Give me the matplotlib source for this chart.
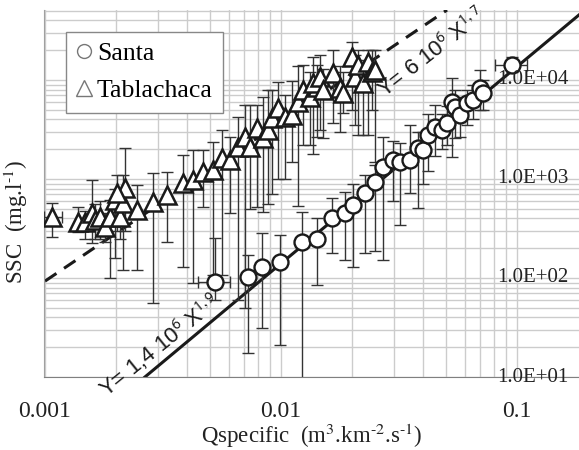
import matplotlib
matplotlib.use("Agg")
import matplotlib.pyplot as plt
import numpy as np
from matplotlib.lines import Line2D
from matplotlib.ticker import LogLocator, NullFormatter

# Tablachaca (triangles): Qspecific, SSC, lower / upper error limits
tab_q = [0.00107, 0.00138, 0.00148, 0.00158, 0.00163, 0.00171, 0.00180, 0.00188,
         0.00198, 0.00208, 0.00214, 0.00218, 0.00245, 0.00287, 0.00329, 0.00385,
         0.00424, 0.00467, 0.00515, 0.00562, 0.00608, 0.00658, 0.00703, 0.00739,
         0.00791, 0.00839, 0.00881, 0.00916, 0.00971, 0.0104, 0.0111, 0.0118,
         0.0124, 0.0133, 0.0142, 0.0137, 0.0146, 0.0151, 0.0166, 0.0178,
         0.0183, 0.0200, 0.0206, 0.0212, 0.0223, 0.0234, 0.0243, 0.0250, 0.00202]
tab_ssc = [413, 368, 368, 454, 385, 413, 327, 413, 614, 413, 573, 811, 486, 586,
           689, 912, 977, 1178, 1233, 1630, 1556, 2104, 2655, 2104, 3273, 2594,
           3126, 4131, 5213, 4227, 4426, 5996, 7925, 6730, 8494, 9326, 10720,
           7925, 11770, 8300, 7390, 17060, 10720, 14180, 9326, 15200, 12050,
           12630, 722]
tab_low = [259, 292, 250, 226, 245, 245, 230, 100, 159, 245, 120, 300, 120, 56,
           231, 129, 89, 521, 107, 107, 454, 60, 50, 500, 520, 460, 560, 700,
           1000, 1000, 1500, 530, 2200, 2200, 2650, 1800, 3100, 2600, 3680,
           2985, 4600, 5000, 3500, 2800, 2800, 2780, 5000, 1500, 300]
tab_high = [573, 520, 480, 977, 560, 600, 450, 620, 800, 560, 1100, 2056, 871,
            1150, 1178, 1746, 1963, 1963, 2366, 3126, 2655, 4227, 5600, 5600,
            5600, 6700, 8000, 8000, 9500, 7000, 9800, 14000, 14200, 12000,
            14200, 17000, 18000, 13000, 20000, 14000, 12000, 24200, 17900,
            20000, 16000, 20000, 20000, 20000, 1100]

# Santa (circles)
san_q = [0.00525, 0.00724, 0.0083, 0.0099, 0.0123, 0.0142, 0.0165, 0.0187,
         0.0202, 0.0227, 0.0250, 0.0271, 0.0298, 0.0319, 0.0352, 0.0381, 0.0400,
         0.0420, 0.0450, 0.0481, 0.0505, 0.0531, 0.0546, 0.0573, 0.0614,
         0.0651, 0.0697, 0.0718, 0.0953]
san_ssc = [91, 102, 129, 145, 231, 248, 404, 454, 546, 722, 933, 1321, 1556,
           1486, 1556, 2056, 1963, 2782, 3350, 3126, 3680, 5996, 5337, 4426,
           5861, 6281, 8300, 7390, 14180]
san_low = [60, 17.5, 31, 21, 3, 85, 180, 152, 129, 179, 188, 152, 600, 343,
           722, 509, 900, 1200, 1700, 2000, 2200, 1667, 2600, 2655, 3500, 4000,
           4978, 5000, 12000]
san_high = [254, 171, 285, 272, 464, 404, 650, 740, 900, 1100, 1400, 2655,
            2400, 2300, 3508, 3000, 3000, 4500, 5590, 4500, 5500, 10470, 8000,
            6730, 8000, 9000, 12630, 10000, 17000]

# horizontal error bars (only a few points have them)
tab_xerr_q = [0.00107]
tab_xerr_ssc = [413]
tab_xerr_lim = [(0.00099, 0.00118)]
san_xerr_q = [0.00525, 0.0953]
san_xerr_ssc = [91, 14180]
san_xerr_lim = [(0.00445, 0.00608), (0.0807, 0.110)]

# fitted power laws, end points as drawn
fit_santa_q = [0.00265, 0.183]
fit_santa_ssc = [10, 45400]
fit_tab_q = [0.001, 0.0505]
fit_tab_ssc = [93, 50900]

serif = "Liberation Serif"
sans = "Liberation Sans"

fig = plt.figure(figsize=(5.79, 4.5), dpi=100)
ax = fig.add_axes([44 / 579, 1 - 377 / 450, 535 / 579, 367 / 450])
ax.set_xscale("log")
ax.set_yscale("log")
ax.set_xlim(0.00099, 0.183)
ax.set_ylim(10, 50900)

ax.xaxis.set_minor_locator(LogLocator(base=10, subs=np.arange(2, 10)))
ax.yaxis.set_minor_locator(LogLocator(base=10, subs=np.arange(2, 10)))
ax.xaxis.set_minor_formatter(NullFormatter())
ax.yaxis.set_minor_formatter(NullFormatter())
ax.grid(which="both", color="#cccccc", lw=1.0, zorder=0)
ax.set_axisbelow(True)
ax.tick_params(which="both", length=0)

for s in ["top", "right"]:
    ax.spines[s].set_visible(False)
ax.spines["left"].set_color("#a0a0a0")
ax.spines["bottom"].set_color("#808080")

ax.set_xticks([0.001, 0.01, 0.1])
ax.set_xticklabels(["0.001", "0.01", "0.1"], fontfamily=serif, fontsize=17)
ax.tick_params(axis="x", pad=17, colors="#222222")
ax.set_yticks([10, 100, 1000, 10000])
ax.set_yticklabels([])

# y labels inside the plot on the right
for v, lab in zip([10, 100, 1000, 10000], ["1.0E+01", "1.0E+02", "1.0E+03", "1.0E+04"]):
    ax.text(0.98, v, lab, transform=ax.get_yaxis_transform(), ha="right",
            va="center", fontfamily=serif, fontsize=15, color="#222222",
            zorder=6, clip_on=False)

# fit lines
ax.plot(fit_santa_q, fit_santa_ssc, color="#1a1a1a", lw=2.2, zorder=2)
ax.plot(fit_tab_q, fit_tab_ssc, color="#1a1a1a", lw=2.2, dashes=(4.5, 3), zorder=2)

# error bars
tq, ts = np.array(tab_q), np.array(tab_ssc)
ax.errorbar(tq, ts, yerr=[ts - np.array(tab_low), np.array(tab_high) - ts],
            fmt="none", ecolor="#333333", elinewidth=1, capsize=4, capthick=1, zorder=3)
sq, ss = np.array(san_q), np.array(san_ssc)
ax.errorbar(sq, ss, yerr=[ss - np.array(san_low), np.array(san_high) - ss],
            fmt="none", ecolor="#333333", elinewidth=1, capsize=4, capthick=1, zorder=3)
for q, v, (lo, hi) in zip(tab_xerr_q + san_xerr_q, tab_xerr_ssc + san_xerr_ssc,
                          tab_xerr_lim + san_xerr_lim):
    ax.errorbar([q], [v], xerr=[[q - lo], [hi - q]], fmt="none", ecolor="#333333",
                elinewidth=1, capsize=4, capthick=1, zorder=3)

# markers
ax.plot(tab_q, tab_ssc, ls="none", marker="^", ms=13, mfc="white", mec="#1a1a1a",
        mew=1.8, zorder=4)
ax.plot(san_q, san_ssc, ls="none", marker="o", ms=11.5, mfc="white", mec="#1a1a1a",
        mew=1.7, zorder=4)

# equations
ax.text(0.0437, 18750, r"Y= 6 10$^{6}$ X$^{1,7}$", rotation=38, ha="center",
        va="center", rotation_mode="anchor", fontfamily=sans, fontsize=16,
        math_fontfamily="stixsans", color="#1a1a1a", zorder=5)
ax.text(0.00307, 21, r"Y= 1,4 10$^{6}$ X$^{1,9}$", rotation=39, ha="center",
        va="center", rotation_mode="anchor", fontfamily=sans, fontsize=16,
        math_fontfamily="stixsans", color="#1a1a1a", zorder=5, clip_on=False)

ax.set_xlabel(r"Qspecific  (m$^{3}$.km$^{\text{-}2}$.s$^{\text{-}1}$)",
              fontfamily=serif, fontsize=16.5, math_fontfamily="stix",
              color="#222222", labelpad=0)
ax.set_ylabel(r"SSC  (mg.l$^{\text{-}1}$)", fontfamily=serif, fontsize=16.5,
              math_fontfamily="stix", color="#222222")
ax.yaxis.set_label_coords(-0.026, 0.422)

handles = [Line2D([], [], ls="none", marker="o", ms=10, mfc="none", mec="#777777", mew=1),
           Line2D([], [], ls="none", marker="^", ms=11, mfc="none", mec="#777777", mew=1)]
leg = ax.legend(handles, ["Santa", "Tablachaca"], loc="upper left",
                bbox_to_anchor=(0.041, 0.94), borderaxespad=0, fancybox=False,
                framealpha=1, edgecolor="#888888", prop={"family": serif, "size": 18.5},
                handlelength=0.6, handletextpad=0.2, borderpad=0.4, labelspacing=0.55)
leg.get_frame().set_linewidth(1)
leg.set_zorder(7)

fig.savefig("out.png", dpi=100)
